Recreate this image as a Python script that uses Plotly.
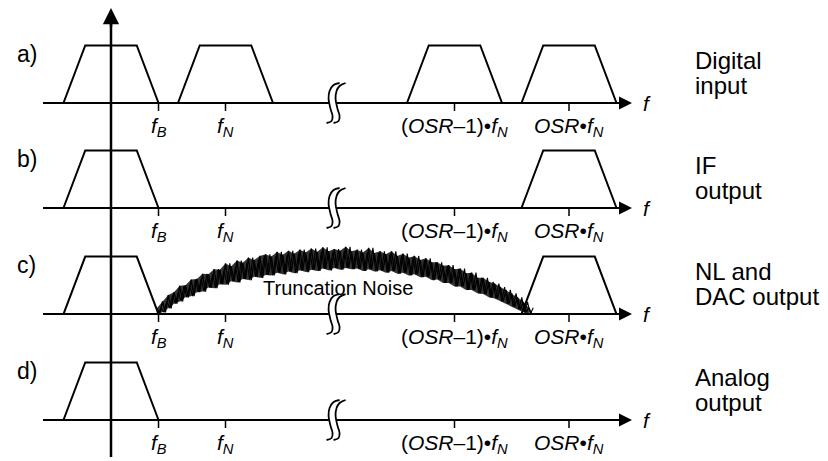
import plotly.graph_objects as go

# ---------------- data ----------------
ROW_LETTERS = ["a)", "b)", "c)", "d)"]
ROW_TITLES = [["Digital", "input"], ["IF", "output"], ["NL and", "DAC output"], ["Analog", "output"]]
# spectral image centres per row (display positions, in units of f_N; axis broken between 1 and 3)
BAND_CENTERS = [[0, 1, 3, 4], [0, 4], [0, 4], [0]]
F_B = 0.415            # signal bandwidth (bottom half-width of each image)
BAND_TOP_HALF = 0.225  # half-width of flat top
BAND_LEVEL = 1.0
TICK_POS = [F_B, 1, 3, 4]
TICK_LABELS = ["<i>f</i><sub><i>B</i></sub>", "<i>f</i><sub><i>N</i></sub>",
               "(<i>OSR</i>–1)•<i>f</i><sub><i>N</i></sub>", "<i>OSR</i>•<i>f</i><sub><i>N</i></sub>"]
BREAK_AT = 1.97

NOISE_ROW = 2
NOISE_START = 0.40
NOISE_STEP = 0.05
NOISE_UPPER = [0.10, 0.22, 0.33, 0.38, 0.49, 0.50, 0.60, 0.61, 0.70, 0.69, 0.78, 0.77, 0.88, 0.83,
               0.93, 0.89, 0.98, 0.94, 1.01, 1.04, 1.00, 1.08, 1.03, 1.10, 1.05, 1.12, 1.07, 1.14,
               1.08, 1.16, 1.09, 1.13, 1.10, 1.17, 1.09, 1.12, 1.07, 1.15, 1.06, 1.09, 1.04, 1.09,
               1.01, 1.05, 0.98, 1.01, 0.94, 0.97, 0.90, 0.90, 0.84, 0.85, 0.78, 0.79, 0.71, 0.72,
               0.63, 0.63, 0.56, 0.53, 0.47, 0.42, 0.36, 0.29, 0.21, 0.11]
NOISE_LOWER = [0.00, 0.03, 0.10, 0.18, 0.22, 0.29, 0.31, 0.38, 0.39, 0.46, 0.45, 0.52, 0.51, 0.57,
               0.55, 0.61, 0.59, 0.65, 0.63, 0.68, 0.67, 0.72, 0.69, 0.74, 0.71, 0.76, 0.73, 0.77,
               0.75, 0.79, 0.76, 0.80, 0.77, 0.80, 0.78, 0.79, 0.75, 0.78, 0.74, 0.76, 0.72, 0.75,
               0.70, 0.72, 0.67, 0.69, 0.64, 0.65, 0.59, 0.60, 0.54, 0.54, 0.48, 0.48, 0.42, 0.42,
               0.36, 0.35, 0.29, 0.27, 0.22, 0.18, 0.13, 0.08, 0.03, 0.00]
NOISE_LABEL = "Truncation Noise"

# ---------------- layout constants ----------------
PX_X, PX_Y = 114.5, 57.5          # pixels per unit
ORIGIN_PX_X, ORIGIN_PX_Y = 111, 103
W, H = 828, 461
ROW_OFFSET = [0, -1.826, -3.67, -5.513]
X_START = -0.594
ARROW_TIP = 4.55
FONT = "Liberation Sans, Arial, Helvetica, sans-serif"
LW = 2

# break glyph template in pixels (dx right, dy down)
BRK_L = [(3, -20), (-3, -18), (-7, -12), (-8, -4), (-6, 6), (-4, 13), (-5, 18), (-10, 20)]
BRK_R = [(9, -20), (3, -17), (0, -12), (-1, -4), (1, 6), (3, 13), (2, 18), (-3, 20)]

fig = go.Figure()

def line(x, y, width=LW, **kw):
    fig.add_trace(go.Scatter(x=x, y=y, mode="lines", line=dict(color="black", width=width, **kw),
                             hoverinfo="skip", showlegend=False))

annotations = []
for r, off in enumerate(ROW_OFFSET):
    # baseline
    line([X_START, ARROW_TIP - 0.08], [off, off])
    annotations.append(dict(x=ARROW_TIP, y=off, ax=ARROW_TIP - 0.14, ay=off, xref="x", yref="y",
                            axref="x", ayref="y", text="", showarrow=True, arrowhead=2,
                            arrowsize=1.3, arrowwidth=2, arrowcolor="black"))
    annotations.append(dict(x=ARROW_TIP + 0.08, y=off, xref="x", yref="y", text="<i>f</i>",
                            showarrow=False, xanchor="left", yanchor="middle",
                            font=dict(family=FONT, size=21, color="black")))
    # spectral images
    xs, ys = [], []
    for c in BAND_CENTERS[r]:
        xs += [c - F_B, c - BAND_TOP_HALF, c + BAND_TOP_HALF, c + F_B, None]
        ys += [off, off + BAND_LEVEL, off + BAND_LEVEL, off, None]
    line(xs, ys)
    # ticks
    tx, ty = [], []
    for t in TICK_POS:
        tx += [t, t, None]
        ty += [off, off - 8 / PX_Y, None]
    line(tx, ty, width=1.5)
    for t, lab in zip(TICK_POS, TICK_LABELS):
        annotations.append(dict(x=t, y=off - 24 / PX_Y, xref="x", yref="y", text=lab,
                                showarrow=False, xanchor="center", yanchor="middle",
                                font=dict(family=FONT, size=21, color="black")))
    # noise
    if r == NOISE_ROW:
        ux = [NOISE_START + NOISE_STEP * i for i in range(len(NOISE_UPPER))]
        fig.add_trace(go.Scatter(x=ux + ux[::-1], y=[off + v for v in NOISE_UPPER] + [off + v for v in NOISE_LOWER[::-1]],
                                 mode="lines", fill="toself", fillcolor="rgba(0,0,0,0.8)",
                                 line=dict(width=0), hoverinfo="skip", showlegend=False))
        zx, zy, zx2, zy2 = [], [], [], []
        for i, u in enumerate(ux):
            zx += [u, u + NOISE_STEP / 2]
            zy += [off + NOISE_UPPER[i], off + NOISE_LOWER[i]]
            zx2 += [u + NOISE_STEP / 4, u + 3 * NOISE_STEP / 4]
            zy2 += [off + NOISE_LOWER[i], off + NOISE_UPPER[i]]
        line(zx, zy, width=1.3)
        line(zx2, zy2, width=1.1)
        annotations.append(dict(x=1.98, y=off + 0.45, xref="x", yref="y", text=NOISE_LABEL,
                                showarrow=False, xanchor="center", yanchor="middle",
                                font=dict(family=FONT, size=20, color="black")))
    # axis-break glyph
    lx = [BREAK_AT + dx / PX_X for dx, dy in BRK_L]
    ly = [off - dy / PX_Y for dx, dy in BRK_L]
    rx = [BREAK_AT + dx / PX_X for dx, dy in BRK_R]
    ry = [off - dy / PX_Y for dx, dy in BRK_R]
    fig.add_trace(go.Scatter(x=lx + rx[::-1], y=ly + ry[::-1], mode="lines", fill="toself",
                             fillcolor="white", line=dict(width=0, shape="spline"),
                             hoverinfo="skip", showlegend=False))
    line(lx, ly, width=1.8, shape="spline")
    line(rx, ry, width=1.8, shape="spline")
    # row letter
    annotations.append(dict(x=-0.734, y=off + 0.85, xref="x", yref="y", text=ROW_LETTERS[r],
                            showarrow=False, xanchor="center", yanchor="middle",
                            font=dict(family=FONT, size=23, color="black")))
    # right-hand titles
    for k, (txt, dv) in enumerate(zip(ROW_TITLES[r], [0.74, 0.31])):
        annotations.append(dict(x=5.083, y=off + dv, xref="x", yref="y", text=txt,
                                showarrow=False, xanchor="left", yanchor="middle",
                                font=dict(family=FONT, size=24, color="black")))

# vertical axis
v_top = (ORIGIN_PX_Y - 8) / PX_Y
v_bot = (ORIGIN_PX_Y - 457) / PX_Y
line([0, 0], [v_bot, v_top - 0.15], width=2.5)
annotations.append(dict(x=0, y=v_top, ax=0, ay=v_top - 0.35, xref="x", yref="y", axref="x", ayref="y",
                        text="", showarrow=True, arrowhead=2, arrowsize=1.3, arrowwidth=2.5,
                        arrowcolor="black"))

x_range = [-ORIGIN_PX_X / PX_X, (W - ORIGIN_PX_X) / PX_X]
y_range = [(ORIGIN_PX_Y - H) / PX_Y, ORIGIN_PX_Y / PX_Y]
fig.update_layout(
    width=W, height=H, margin=dict(l=0, r=0, t=0, b=0),
    paper_bgcolor="white", plot_bgcolor="white", showlegend=False,
    xaxis=dict(range=x_range, visible=False, fixedrange=True),
    yaxis=dict(range=y_range, visible=False, fixedrange=True),
    annotations=annotations,
)
fig.write_html("out.html", config={"displayModeBar": False},
               post_script="document.body.style.margin='0';document.body.style.overflow='hidden';")
